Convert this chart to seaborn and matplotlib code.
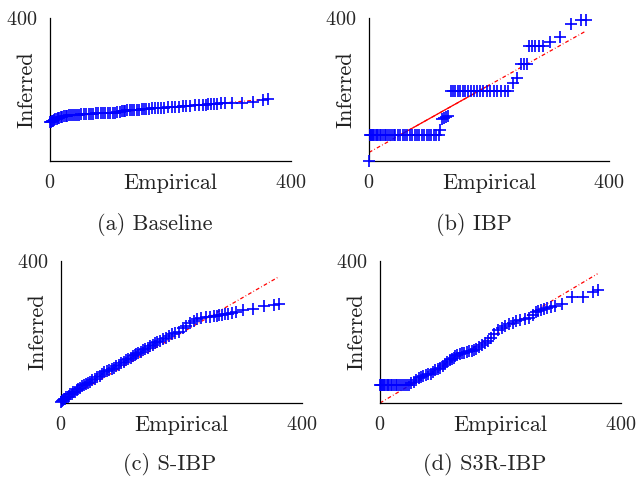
import matplotlib
matplotlib.use("Agg")
import matplotlib.pyplot as plt
import seaborn as sns

# empirical quantiles (shared x of all four panels)
empirical = [0, 2, 4, 5, 7, 9, 11, 13, 15, 18, 20, 23, 26, 29, 32, 35, 38, 41, 44, 48,
             52, 56, 60, 64, 68, 72, 76, 80, 84, 88, 92, 96, 100, 104, 108, 112, 116, 119, 122, 125,
             128, 132, 136, 140, 144, 148, 152, 156, 160, 165, 170, 175, 180, 185, 190, 196, 202, 208, 214, 220,
             226, 232, 240, 247, 254, 259, 263, 267, 272, 277, 283, 290, 302, 319, 337, 353, 361]

baseline = [108, 110, 112, 113, 115, 117, 118, 119, 121, 122, 123, 125, 126, 127, 128, 128, 129, 129, 130, 130,
            131, 131, 131, 132, 132, 132, 133, 133, 133, 133, 134, 134, 134, 135, 135, 136, 137, 140, 141, 141,
            142, 142, 143, 143, 144, 144, 145, 145, 146, 146, 147, 147, 148, 148, 149, 150, 151, 151, 152, 153,
            154, 155, 156, 157, 158, 158, 159, 159, 160, 160, 161, 161, 161, 161, 166, 171, 173]

ibp = [0, 73, 73, 73, 73, 73, 73, 73, 73, 73, 73, 73, 73, 73, 73, 73, 73, 73, 73, 73,
       73, 73, 73, 73, 73, 73, 73, 73, 73, 73, 73, 73, 73, 73, 73, 73, 73, 87, 118, 121,
       124, 127, 196, 196, 196, 196, 196, 196, 196, 196, 196, 196, 196, 196, 196, 196, 196, 196, 196, 196,
       196, 196, 219, 231, 270, 270, 270, 322, 322, 322, 322, 322, 334, 348, 383, 394, 394]

s_ibp = [3, 5, 8, 10, 12, 16, 18, 20, 24, 26, 30, 32, 36, 40, 42, 47, 50, 54, 56, 60,
         64, 68, 72, 76, 82, 87, 90, 93, 96, 100, 103, 108, 112, 116, 120, 124, 128, 131, 134, 137,
         140, 144, 148, 152, 156, 160, 164, 168, 171, 175, 180, 184, 188, 193, 196, 201, 210, 218, 225, 232,
         237, 240, 242, 243, 245, 246, 248, 249, 250, 251, 253, 255, 262, 266, 274, 276, 280]

s3r_ibp = [50, 50, 50, 50, 50, 50, 50, 50, 50, 50, 50, 50, 50, 50, 50, 50, 50, 50, 50, 50,
           55, 58, 64, 70, 73, 76, 79, 81, 83, 88, 92, 96, 100, 105, 110, 115, 120, 124, 128, 132,
           135, 138, 140, 142, 144, 146, 147, 148, 152, 157, 163, 169, 175, 183, 193, 205, 212, 218, 222, 226,
           230, 233, 236, 239, 248, 255, 260, 262, 265, 268, 271, 274, 280, 299, 299, 313, 317]

# red reference lines (end points)
fit_x = [0, 361]
baseline_fit = [121, 173]
ibp_fit = [24, 363]
s_ibp_fit = [2, 355]
s3r_ibp_fit = [0, 364]
# part of the IBP line that renders solid
ibp_solid_x = [50, 200]
ibp_solid_y = [71, 212]

panels = [("(a) Baseline", baseline, baseline_fit),
          ("(b) IBP", ibp, ibp_fit),
          ("(c) S-IBP", s_ibp, s_ibp_fit),
          ("(d) S3R-IBP", s3r_ibp, s3r_ibp_fit)]

sns.set_style("white")
plt.rcParams["font.family"] = ["cmr10", "DejaVu Serif"]
plt.rcParams["axes.formatter.use_mathtext"] = True

W, H = 641, 479
fig = plt.figure(figsize=(W / 100, H / 100), dpi=100)

# axes boxes in pixels: left, top, right, bottom
boxes = [(50, 18, 291, 161), (369, 18, 609, 161), (61, 261, 302, 403), (380, 261, 621, 403)]
cap_pos = [(155, 225), (474, 225), (170, 465), (485, 465)]

tick_fs = 14.5
lab_fs = 16

axes = []
for (cap, inferred, fit), (l, t, r, b), (cx, cy) in zip(panels, boxes, cap_pos):
    ax = fig.add_axes([l / W, 1 - b / H, (r - l) / W, (b - t) / H])
    ax.plot(fit_x, fit, color="red", lw=0.9, linestyle=(0, (3.0, 1.8, 0.6, 1.8)), zorder=1)
    sns.scatterplot(x=empirical, y=inferred, marker="+", color="blue", s=64,
                    linewidth=1.2, ax=ax, clip_on=False, zorder=3)
    ax.set_xlim(0, 400)
    ax.set_ylim(0, 400)
    ax.set_xticks([0, 400])
    ax.set_yticks([400])
    ax.tick_params(direction="in", length=7, width=1, color="#999999",
                   labelsize=tick_fs, pad=9)
    for s in ["top", "right"]:
        ax.spines[s].set_visible(False)
    for s in ["left", "bottom"]:
        ax.spines[s].set_color("black")
        ax.spines[s].set_linewidth(0.9)
    ax.set_xlabel("Empirical", fontsize=lab_fs, color="#222222")
    ax.set_ylabel("Inferred", fontsize=lab_fs, color="#222222")
    ax.xaxis.set_label_coords(0.5, -0.09)
    ax.yaxis.set_label_coords(-0.055, 0.5)
    fig.text(cx / W, 1 - cy / H, cap, fontsize=lab_fs, ha="center", va="center")
    axes.append(ax)

axes[1].plot(ibp_solid_x, ibp_solid_y, color="red", lw=0.9, zorder=1)

fig.savefig("out.png", dpi=100)
